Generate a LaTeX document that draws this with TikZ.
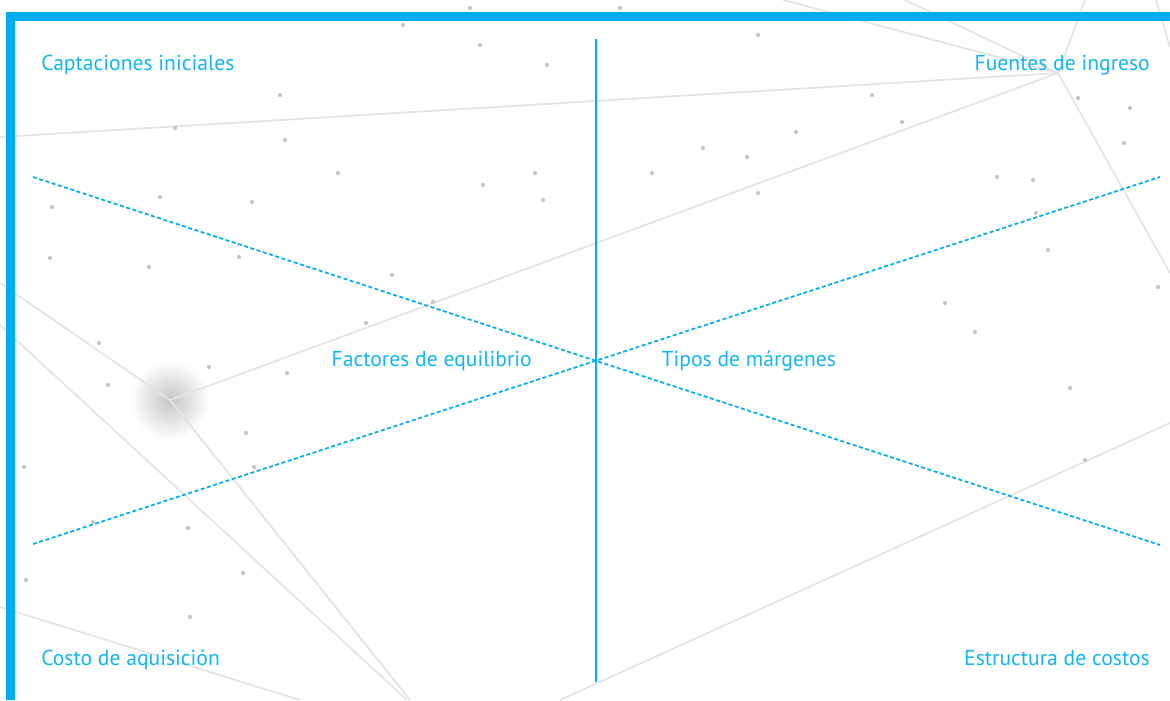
\documentclass[tikz,border=0pt]{standalone}
\usepackage{fontspec}
\setmainfont{PT Sans}
\usetikzlibrary{positioning}
\definecolor{skyline}{RGB}{0,174,239}
\definecolor{mist}{RGB}{228,228,228}

\begin{document}
\begin{tikzpicture}[x=0.75pt, y=-0.75pt,
  note/.style={text=skyline!92, font=\fontsize{16.2}{19}\selectfont, inner sep=0pt},
  cross/.style={draw=skyline, line width=1.3pt, dash pattern=on 3pt off 1.9pt},
  web/.style={draw=mist, line width=1.3pt},
  speck/.style={fill=gray!45}]

  \useasboundingbox (0,0) rectangle (1170,700);

  % background web
  \shade[inner color=gray!45, outer color=white] (170,400) circle[radius=30pt];
  \coordinate (hub) at (1058,73);
  \coordinate (glow) at (170,400);
  \draw[web] (0,137) -- (hub);
  \draw[web] (glow) -- (hub);
  \draw[web] (783,0) -- (hub);
  \draw[web] (905,0) -- (hub);
  \draw[web] (1085,0) -- (hub) -- (1170,273);
  \draw[web] (1156,0) -- (1170,47);
  \draw[web] (0,283) -- (glow) -- (410,700);
  \draw[web] (0,325) -- (407,700);
  \draw[web] (0,607) -- (300,700);
  \draw[web] (560,700) -- (1170,423);
  \foreach \p in {(470,8),(403,25),(480,45),(547,65),(280,95),(175,128),(285,140),
                  (338,173),(535,173),(483,185),(543,200),(160,197),(52,207),(252,202),
                  (239,257),(149,267),(50,258),(392,275),(433,302),(366,323),(99,343),
                  (620,8),(758,35),(872,95),(902,122),(796,132),(703,148),(747,157),
                  (652,173),(758,193),(1078,98),(1130,108),(1124,143),(997,177),
                  (1033,180),(1036,213),(1048,250),(945,303),(975,332),(1158,287),
                  (209,367),(287,373),(108,385),(246,433),(24,467),(254,467),(93,522),
                  (188,528),(243,573),(26,580),(190,617),(1070,388),(1085,460)}
    \fill[speck] \p circle[radius=1.6pt];

  % frame
  \fill[skyline] (6,12) rectangle (1170,21);
  \fill[skyline] (6,12) rectangle (15,700);

  \coordinate (mid) at (596,361);
  \coordinate (top) at (596,39);
  \coordinate (bot) at (596,682);
  \coordinate (nw) at (33,177);
  \coordinate (ne) at (1160,177);
  \coordinate (sw) at (33,544);
  \coordinate (se) at (1160,545);

  \draw[skyline, line width=1.5pt] (top) -- (bot);
  \draw[cross] (nw) -- (se);
  \draw[cross] (sw) -- (ne);

  \node[note, anchor=base west] (capt) at (41,70) {Captaciones iniciales};
  \node[note, anchor=base east] (fuen) at (1150,70) {Fuentes de ingreso};
  \node[note, anchor=base west] (cost) at (41,665) {Costo de aquisición};
  \node[note, anchor=base east] (estr) at (1150,665) {Estructura de costos};
  \node[note, left=48pt of mid] (fact) {Factores de equilibrio};
  \node[note, right=49pt of mid] (tipo) {Tipos de márgenes};

\end{tikzpicture}
\end{document}
